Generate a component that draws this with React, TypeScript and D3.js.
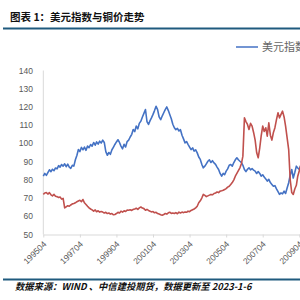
import * as d3 from "d3";
import { useRef, useEffect } from "react";

// monthly series, first point 1995-04
const startMonth = "199504";

// 美元指数 (blue)
const dxyValues = [
  82, 83.5, 82.5, 84, 85.5, 84.5, 85.8, 85, 86.5,
  86, 87.8, 87, 88.4, 87.5, 88.8, 87.2, 88.6, 87, 86.3, 88, 87.5,
  91, 93.5, 96.6, 95.5, 97.8, 96.5, 98, 96.2, 98.5, 97.6, 99.4, 98.5,
  100.5, 99, 100.8, 99.6, 101.2, 100.2, 101.8, 100.5, 95.5, 93.5, 95, 94,
  96.5, 98, 99.4, 100.8, 102, 100.5, 98.5, 97, 99.5, 98, 101, 101.8,
  103.5, 105, 107.6, 106.5, 109.5, 108, 111, 112.2, 114.5, 116.5, 118.6, 112,
  110.4, 112.5, 114, 115.9, 118, 120.4, 118.5, 114.5, 113, 115, 116.8, 118.5,
  120, 118, 115.9, 113.5, 110.5, 108.6, 107.5, 108.2, 106.8, 107.5, 104.5, 102.5,
  100.3, 101, 99.5, 98, 96.6, 97.5, 95.8, 96.5, 94.8, 92.5, 91.2, 88.5,
  86.6, 87.5, 88.8, 90.2, 91, 89.5, 90.5, 89.3, 88.5, 87, 85.7, 83.5,
  82, 83.5, 82.8, 84.8, 86, 88, 88.4, 87.5, 89.5, 91, 92.1, 91,
  90.2, 89.5, 88, 85.7, 84.5, 85.8, 86.6, 85.5, 86.2, 85.3, 84.8, 83.5,
  84.5, 83.5, 82, 82.8, 81.5, 80.5, 79.3, 80.3, 78.5, 77.5, 76.5, 76.8,
  75, 73.5, 72, 72.8, 72.3, 73.8, 72.5, 75.5, 78.4, 82.5, 85.7, 81,
  84, 87.5, 86.5, 85.7, 88, 86,
];

// 铜价 (red)
const copperValues = [
  72, 72.8, 73, 72.2, 73, 71.8, 71.2, 72, 71,
  70.8, 70.3, 70.6, 69.4, 69.8, 64.6, 65.2, 65.8, 65.5, 66.2, 66.8, 67,
  67.4, 68, 68.4, 68.8, 68, 69.2, 67.4, 66.5, 65.5, 64.6, 64, 63.5,
  62.8, 63.5, 62.5, 63, 62.3, 62.6, 62.3, 61.8, 62.2, 61.5, 61.8, 61.2,
  61.5, 60.8, 61, 61.5, 62.2, 61.8, 62.8, 62.3, 63, 62.6, 63.4, 63.3,
  63.6, 63.2, 63.8, 64, 64.4, 63.8, 64.6, 65.1, 64.5, 64.2, 63.3, 63.8,
  63.2, 62.8, 62.4, 62.6, 61.9, 62.2, 61.5, 61.2, 60.8, 60.6, 61, 61.5,
  61.2, 61.9, 62.2, 61.6, 61.8, 61.5, 62, 61.4, 62.3, 61.8, 62.3, 62,
  62.4, 62.2, 62.8, 62.5, 63.2, 63.6, 64, 64.6, 65.5, 67.4, 68.5, 70,
  72, 71.5, 70.8, 71.2, 71.6, 72, 71.8, 72.5, 72.8, 73.3, 73, 73.8,
  74, 74.3, 74.7, 75.2, 76, 76.5, 77.5, 78.5, 80, 82, 83.5, 85,
  86.6, 89, 93, 114, 112, 110.4, 107.6, 111, 109.5, 106, 101.8, 95,
  92.1, 97.6, 104, 109.5, 106.5, 108.6, 104, 111.3, 104.5, 101.8, 106, 108.6,
  113, 116.8, 114, 115.9, 117.7, 114.5, 109.5, 103, 96.6, 80.2, 73, 72,
  75, 77, 82, 85, 88, 90,
];

const tickLabels = ["199504", "199704", "199904", "200104", "200304", "200504", "200704", "200904"];
const yTicks = [50, 60, 70, 80, 90, 100, 110, 120, 130, 140];

const titleText = "图表 1：美元指数与铜价走势";
const legendText = "美元指数";
const sourceText = "数据来源：WIND 、中信建投期货，数据更新至 2023-1-6";

function App() {
  const ref = useRef<SVGSVGElement>(null);

  useEffect(() => {
    draw();
  }, []);

  const draw = () => {
    const svg = d3.select(ref.current);
    svg.selectAll("*").remove();

    const parse = d3.timeParse("%Y%m");
    const start = parse(startMonth) as Date;
    const monthDate = (i: number) => d3.timeMonth.offset(start, i);

    const x = d3
      .scaleTime()
      .domain([parse(tickLabels[0]) as Date, parse(tickLabels[tickLabels.length - 1]) as Date])
      .range([43.3, 299.3]);
    const y = d3.scaleLinear().domain([50, 140]).range([234.5, 70.5]);

    const cjk = "'Noto Sans CJK SC', sans-serif";
    const num = "'Liberation Sans', 'Noto Sans CJK SC', sans-serif";

    // title + rules
    svg
      .append("text")
      .attr("x", 10)
      .attr("y", 21)
      .text(titleText)
      .attr("font-family", cjk)
      .attr("font-weight", "bold")
      .attr("font-size", "10.5px")
      .attr("fill", "#111");

    svg
      .append("line")
      .attr("x1", 3)
      .attr("x2", 300)
      .attr("y1", 28.5)
      .attr("y2", 28.5)
      .attr("stroke", "#1f5a7e")
      .attr("stroke-width", 2.2);

    svg
      .append("line")
      .attr("x1", 3)
      .attr("x2", 300)
      .attr("y1", 279.5)
      .attr("y2", 279.5)
      .attr("stroke", "#1f5a7e")
      .attr("stroke-width", 2.2);

    svg
      .append("text")
      .attr("x", 15)
      .attr("y", 289.5)
      .text(sourceText)
      .attr("font-family", cjk)
      .attr("font-weight", "bold")
      .attr("font-style", "italic")
      .attr("font-size", "9.3px")
      .attr("fill", "#111");

    // legend
    svg
      .append("line")
      .attr("x1", 236)
      .attr("x2", 258)
      .attr("y1", 47)
      .attr("y2", 47)
      .attr("stroke", "#4472C4")
      .attr("stroke-width", 1.5);
    svg
      .append("text")
      .attr("x", 262)
      .attr("y", 51)
      .text(legendText)
      .attr("font-family", cjk)
      .attr("font-size", "11px")
      .attr("fill", "#666");

    // y axis
    svg
      .append("line")
      .attr("x1", 43.3)
      .attr("x2", 43.3)
      .attr("y1", y(140))
      .attr("y2", y(50))
      .attr("stroke", "#d9d9d9");

    svg
      .selectAll(".ylab")
      .data(yTicks)
      .join("text")
      .attr("x", 33)
      .attr("y", (d) => y(d) + 3)
      .attr("text-anchor", "end")
      .text((d) => d)
      .attr("font-family", num)
      .attr("font-size", "8.5px")
      .attr("fill", "#595959");

    // x axis
    const xAxis = svg
      .append("g")
      .attr("transform", `translate(0,${y(50)})`)
      .call(
        d3
          .axisBottom(x)
          .tickValues(tickLabels.map((t) => parse(t) as Date))
          .tickFormat(d3.timeFormat("%Y%m") as any)
          .tickSize(3)
          .tickSizeOuter(0)
      );
    xAxis.select(".domain").attr("stroke", "#d9d9d9").attr("d", "M43.3,0.5H320");
    xAxis.selectAll(".tick line").attr("stroke", "#d9d9d9");
    xAxis
      .selectAll(".tick text")
      .attr("font-family", num)
      .attr("font-size", "8.5px")
      .attr("fill", "#595959")
      .attr("text-anchor", "end")
      .attr("dx", 0)
      .attr("dy", 0)
      .attr("transform", "translate(-1,6) rotate(-45)");

    // series
    const line = d3
      .line<number>()
      .x((d, i) => x(monthDate(i)))
      .y((d) => y(d));

    svg
      .append("path")
      .datum(dxyValues)
      .attr("d", line)
      .attr("fill", "none")
      .attr("stroke", "#4472C4")
      .attr("stroke-width", 1.6)
      .attr("stroke-linejoin", "round");

    svg
      .append("path")
      .datum(copperValues)
      .attr("d", line)
      .attr("fill", "none")
      .attr("stroke", "#C0504D")
      .attr("stroke-width", 1.6)
      .attr("stroke-linejoin", "round");
  };

  return (
    <div style={{ position: "fixed", left: 0, top: 0, width: 300, height: 300, background: "#fff" }}>
      <svg ref={ref} width={300} height={300} style={{ display: "block" }}></svg>
    </div>
  );
}

export default App;
